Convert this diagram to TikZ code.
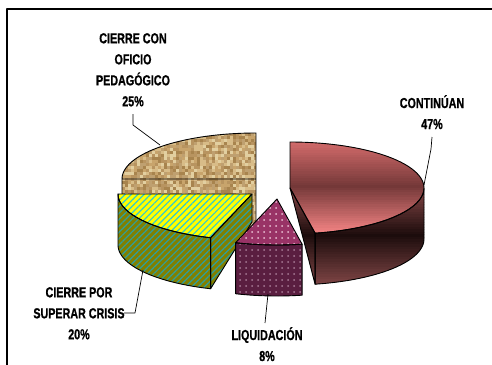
\documentclass[tikz,border=0pt]{standalone}
\usepackage{fontspec}
\newfontfamily\lab[FakeStretch=0.74,FakeBold=0.8]{Liberation Sans}
\usetikzlibrary{patterns.meta}
\definecolor{tx1}{HTML}{C8A46C}
\definecolor{tx2}{HTML}{B89460}
\definecolor{tx3}{HTML}{D8BC88}
\definecolor{tx4}{HTML}{A8844E}
\definecolor{tx5}{HTML}{E2CFA0}
\definecolor{tx6}{HTML}{BFA070}
\definecolor{gyellow}{HTML}{FFFF00}
\definecolor{gcyan}{HTML}{33CCCC}
\definecolor{golive}{HTML}{808000}
\definecolor{gteal}{HTML}{2E9E9E}
\definecolor{ltop}{HTML}{993366}
\definecolor{ldot}{HTML}{EBC3D7}
\definecolor{lfront}{HTML}{5A1E40}
\definecolor{ldot2}{HTML}{A87C96}
\definecolor{rA}{HTML}{D86E6E}
\definecolor{rB}{HTML}{743838}
\definecolor{rC}{HTML}{F58585}
\definecolor{rD}{HTML}{8C4A4A}
\definecolor{rE}{HTML}{1C0C0C}
\definecolor{rF}{HTML}{804646}
% vertical three-colour gradient: x0,x1,y0,y1,c0,c1,c2
\newcommand\vgrad[7]{%
  \foreach \s in {0,...,40}{%
    \pgfmathsetmacro\yy{#3+(#4-#3)*\s/40}%
    \ifnum\s<21
      \pgfmathtruncatemacro\pa{\s*5}\colorlet{gradc}{#6!\pa!#5}%
    \else
      \pgfmathtruncatemacro\pa{(\s-20)*5}\colorlet{gradc}{#7!\pa!#6}%
    \fi
    \fill[gradc] (#1,{\yy-(#4-#3)/80-0.4}) rectangle (#2,{\yy+(#4-#3)/80+0.4});}}
\begin{document}
\begin{tikzpicture}[x=1pt,y=-1pt,line join=round,
  edge/.style={draw=black,line width=0.9pt},
  leader/.style={draw=black,line width=0.7pt},
  lbl/.style={font=\lab\bfseries\fontsize{14.5}{21}\selectfont,align=center,inner sep=0pt,anchor=north,text=black},
  gstripe/.style={pattern={Lines[angle=45,distance=4.5pt,line width=1.2pt]},pattern color=#1},
  ldots/.style={pattern={Dots[distance=6pt,radius=1pt]},pattern color=#1}]
\useasboundingbox (0,0) rectangle (492,364);
\fill[white] (0,0) rectangle (492,364);
\draw[line width=1.3pt,draw=black] (7,370) -- (7,9) -- (500,9);

% ---------- CIERRE CON OFICIO PEDAGOGICO (tan)
\def\tanpath{(256,179) -- plot[domain=90:180,samples=40] ({256+134*cos(\x)},{179-46*sin(\x)}) -- cycle (122,179) rectangle (256,230)}
\begin{scope}
  \clip \tanpath;
  \pgfmathsetseed{7}
  \foreach \i in {0,...,44}{\foreach \j in {0,...,32}{%
    \pgfmathrandominteger{\k}{1}{6}%
    \fill[tx\k] ({122+3*\i},{133+3*\j}) rectangle ++(3,3);}}
\end{scope}
\draw[edge] \tanpath;

% ---------- CIERRE POR SUPERAR CRISIS (green)
\def\gtop{(252,194) -- plot[domain=180:252,samples=30] ({252+134*cos(\x)},{194-46*sin(\x)}) -- cycle}
\def\gside{plot[domain=180:252,samples=30] ({252+134*cos(\x)},{194-46*sin(\x)}) -- plot[domain=252:180,samples=30] ({252+134*cos(\x)},{245-46*sin(\x)}) -- cycle}
\def\gcut{(252,194) -- (252,222) -- (210.6,288.7) -- (210.6,237.7) -- cycle}
\fill[golive] \gside; \fill[gstripe=gteal] \gside;
\fill[golive] \gcut;  \fill[gstripe=gteal] \gcut;
\fill[gyellow] \gtop; \fill[gstripe=gcyan] \gtop;
\draw[edge] \gside; \draw[edge] \gcut; \draw[edge] \gtop;

% ---------- LIQUIDACION (purple)
\def\lto{(277,199) -- plot[domain=252:280.8,samples=15] ({277+134*cos(\x)},{199-46*sin(\x)}) -- cycle}
\def\lsi{plot[domain=252:280.8,samples=15] ({277+134*cos(\x)},{199-46*sin(\x)}) -- plot[domain=280.8:252,samples=15] ({277+134*cos(\x)},{250-46*sin(\x)}) -- cycle}
\fill[lfront] \lsi; \fill[ldots=ldot2] \lsi;
\fill[ltop] \lto; \fill[ldots=ldot] \lto;
\draw[edge] \lsi; \draw[edge] \lto;

% ---------- CONTINUAN (red)
\def\rtop{(290,188) -- plot[domain=280.8:450,samples=80] ({290+134*cos(\x)},{188-46*sin(\x)}) -- cycle}
\def\rside{plot[domain=280.8:360,samples=40] ({290+134*cos(\x)},{188-46*sin(\x)}) -- plot[domain=360:280.8,samples=40] ({290+134*cos(\x)},{239-46*sin(\x)}) -- cycle}
\def\rcut{(290,188) -- (315.1,233.2) -- (315.1,284.2) -- cycle}
\begin{scope}\clip \rside; \vgrad{310}{430}{186}{286}{rD}{rE}{rF}\end{scope}
\begin{scope}\clip \rcut; \vgrad{288}{318}{186}{286}{rD}{rE}{rF}\end{scope}
\begin{scope}\clip \rtop; \vgrad{286}{430}{140}{234}{rA}{rB}{rC}\end{scope}
\draw[edge] \rside; \draw[edge] \rcut; \draw[edge] \rtop;

% ---------- labels
\node[lbl] (tanlab) at (133,33) {CIERRE CON\\OFICIO\\PEDAGÓGICO\\25\%};
\node[lbl] (redlab) at (432,95) {CONTINÚAN\\47\%};
\node[lbl] (grnlab) at (79,287) {CIERRE POR\\SUPERAR CRISIS\\20\%};
\node[lbl] (liqlab) at (267,327) {LIQUIDACIÓN\\8\%};

% ---------- leaders
\coordinate (tanA) at (133,114); \coordinate (tanB) at (133,125); \coordinate (tanP) at (160,145);
\coordinate (redA) at (432,137); \coordinate (redB) at (431,149); \coordinate (redP) at (424,185);
\coordinate (grnA) at (124,313); \coordinate (grnB) at (135,313); \coordinate (grnP) at (143,270);
\coordinate (liqA) at (265,323); \coordinate (liqP) at (268,294);
\draw[leader] (tanA) -- (tanB) -- (tanP);
\draw[leader] (redA) -- (redB) -- (redP);
\draw[leader] (grnA) -- (grnB) -- (grnP);
\draw[leader] (liqA) -- (liqP);
\end{tikzpicture}
\end{document}
